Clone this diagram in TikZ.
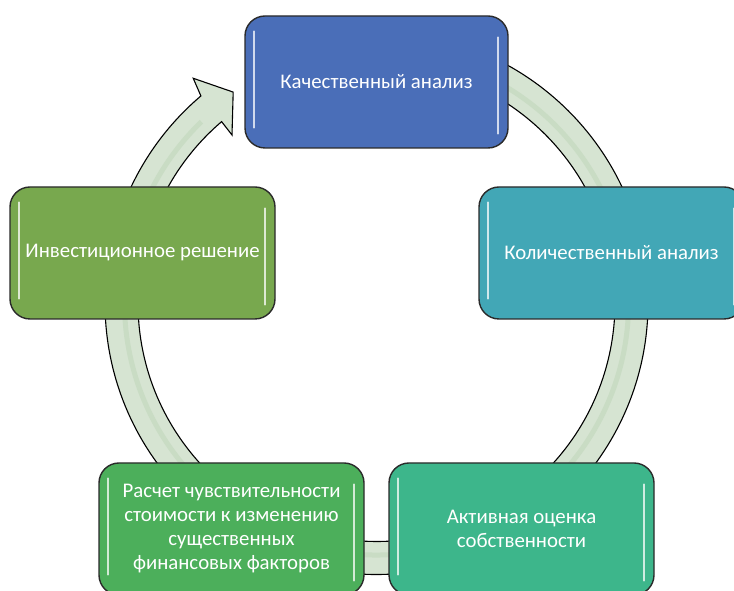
\documentclass[tikz,border=0pt]{standalone}
\usepackage{fontspec}
\setmainfont{Carlito}
\definecolor{qualc}{HTML}{4A6EB8}
\definecolor{quantc}{HTML}{42A7B6}
\definecolor{invc}{HTML}{78A84E}
\definecolor{calcc}{HTML}{4CAF5B}
\definecolor{actc}{HTML}{3DB68B}
\definecolor{ringfill}{HTML}{D6E4D2}
\definecolor{ringstripe}{HTML}{C9DCC4}
\definecolor{edgec}{HTML}{2A2A2A}
\tikzset{
  stagebox/.style={draw=edgec, line width=1.4pt, rounded corners=20pt,
    minimum width=265pt, minimum height=132pt, inner sep=0pt,
    text=white, align=center, font=\fontsize{20.8}{24}\selectfont},
  ringband/.style={fill=ringfill, draw=black, line width=1.1pt, line join=miter},
  ringline/.style={draw=ringstripe, line width=5pt},
  glint/.style={draw=white, opacity=0.75, line width=2pt, line cap=round}
}
\begin{document}
\begin{tikzpicture}[x=1pt,y=1pt]
\useasboundingbox (0,0) rectangle (734,591);
% circular arrow
\coordinate (ctr) at (376.5,288);
\begin{scope}[shift={(ctr)}]
  \path[ringband] (95:271.5pt) arc[start angle=95, end angle=-229.7, radius=271.5pt]
     -- (-230.8:290pt) -- (-235.8:255pt) -- (-229.3:221.6pt) -- (-229.5:238.5pt)
     arc[start angle=-229.5, end angle=95, radius=238.5pt] -- cycle;
  \path[ringline] (60:252pt) arc[start angle=60, end angle=-226, radius=252pt];
\end{scope}
% stage boxes
\node[stagebox, fill=qualc, minimum width=263pt] (qual) at (376.5,509) {Качественный анализ};
\node[stagebox, fill=quantc] (quant) at (611.5,338) {Количественный анализ};
\node[stagebox, fill=actc] (act) at (521.5,62) {Активная оценка\\собственности};
\node[stagebox, fill=calcc] (calc) at (231.5,62) {Расчет чувствительности\\стоимости к изменению\\существенных\\финансовых факторов};
\node[stagebox, fill=invc] (inv) at (142.5,338) {Инвестиционное решение};
% glossy highlights
\foreach \b in {qual,quant,act,calc,inv}{
  \draw[glint] ([xshift=10pt,yshift=-16pt]\b.north west) -- ([xshift=10pt,yshift=21pt]\b.south west);
  \draw[glint] ([xshift=-11pt,yshift=-22pt]\b.north east) -- ([xshift=-11pt,yshift=15pt]\b.south east);
}
\end{tikzpicture}
\end{document}
